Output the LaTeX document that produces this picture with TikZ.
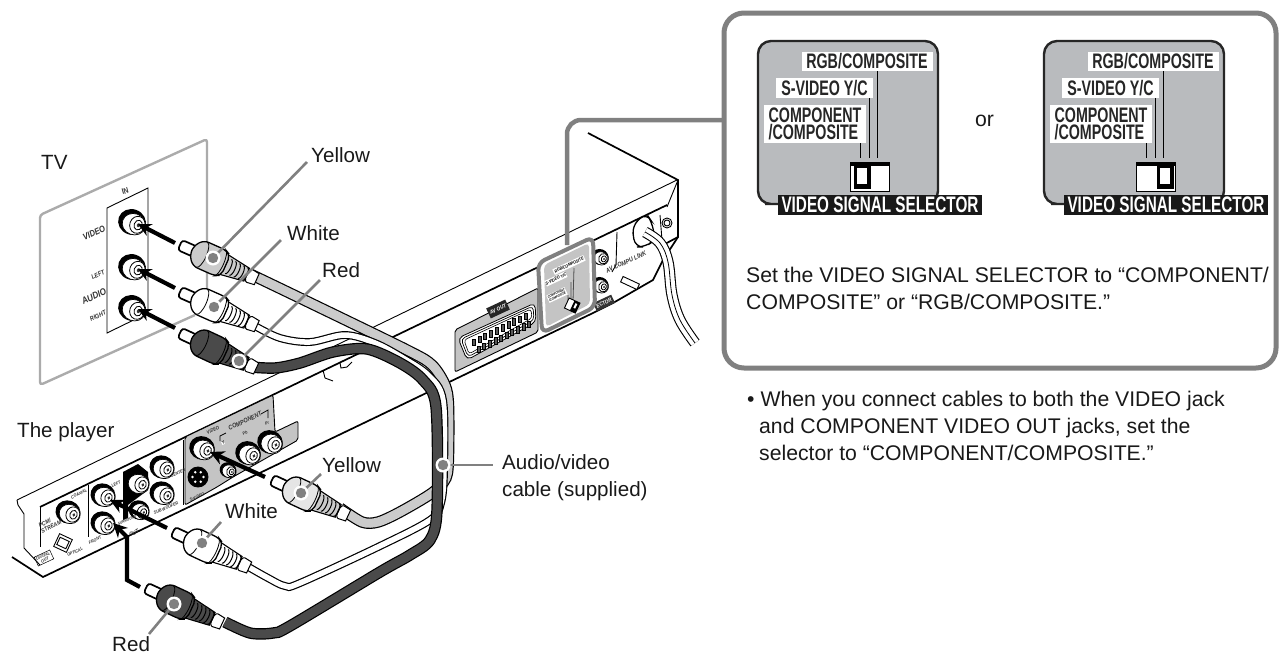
\documentclass[tikz,border=0pt]{standalone}
\usepackage{fontspec}
\setmainfont{Liberation Sans}
\newfontfamily\condb[FakeStretch=0.68]{Liberation Sans}
\newfontfamily\tinyf[FakeStretch=0.85]{Liberation Sans}
\usetikzlibrary{arrows.meta}
\definecolor{lead}{HTML}{808080}
\definecolor{tvgray}{HTML}{ABABAB}
\definecolor{pan}{HTML}{C4C4C4}
\definecolor{cabg}{HTML}{CBCBCB}
\definecolor{cabb}{HTML}{4A4A4A}
\definecolor{selg}{HTML}{B9BBBE}
\tikzset{
 x=1pt,y=-1pt,
 lab/.style={font=\fontsize{20.6}{20.6}\selectfont,anchor=base west,inner sep=0,text=black!90},
 body/.style={lab,font=\fontsize{21.2}{21.2}\selectfont},
 tiny/.style={font=\tinyf\bfseries\itshape\fontsize{#1}{#1}\selectfont,inner sep=0,rotate=25,text=black!80},
 tiny/.default=5,
 leader/.style={lead,line width=2.6},
 thin line/.style={line width=.9,black},
 thick line/.style={line width=1.7,black},
 pa/.style={line width=4.2,black},
 cable/.style={line width=1.2,black,double=#1,double distance=8.5},
 sellab/.style={fill=white,inner sep=0,font=\condb\bfseries\fontsize{21}{16.5}\selectfont,text=black!85},
}
\newcommand\rcajack[3]{%
 \begin{scope}[shift={(#1,#2)},scale=#3,rotate=-20]
  \fill[black] (0,0) ellipse (14 and 12.8);
  \draw[line width=.7,fill=white] (2.5,1.4) ellipse (11.8 and 10.6);
  \draw[line width=.8,fill=white] (6,.8) ellipse (7.6 and 8.6);
  \draw[line width=.8,fill=white] (6.8,.8) ellipse (4 and 5);
  \fill[black!80] (7.2,.8) ellipse (1.6 and 2);
 \end{scope}}
\newcommand\plugat[5]{%
 \begin{scope}[shift={(#1,#2)},rotate=-#3]
  \draw[thick line,fill=white,rounded corners=3] (15,-5.5)--(0,-5.5)--(0,5.5)--(15,5.5);
  \draw[line width=1,fill=white] (76,-7)--(84,-6)--(84,6)--(76,7) arc[x radius=3,y radius=7,start angle=90,end angle=270];
  \draw[line width=1.1,fill=#5] (46,-11)--(73,-7)--(73,7)--(46,11)--cycle;
  \foreach \q in {53,57.5,62,66.5,71}{\draw[line width=1] (\q,-11+\q*.06) arc[x radius=2.5,y radius=11-\q*.06,start angle=-90,end angle=90];}
  \draw[line width=1.3,fill=#4,rounded corners=5] (13,-5)--(20,-14)--(44,-14)--(50,-11)--(50,11)--(44,14)--(20,14)--(13,5)--cycle;
  \draw[line width=.8] (24,-13.6) arc[x radius=4.5,y radius=13.6,start angle=-90,end angle=90];
  \draw[line width=.8] (44,-13.6) arc[x radius=3.5,y radius=13.6,start angle=-90,end angle=90];
 \end{scope}}
\newcommand\leadline[2]{%
 \draw[leader] (#1) -- (#2);
 \fill[white] (#1) circle (7.5);
 \fill[lead] (#1) circle (5.2);}
\newcommand\selector[3]{% dx, name suffix, knob dx
 \begin{scope}[xshift=#1]
  \draw[line width=2.4,black!85,fill=selg,rounded corners=13] (778,204)--(758,204)--(758,41)--(938,41)--(938,204)--cycle;
  \node[fill=black!90,text=white,inner sep=0,minimum width=204,minimum height=20,font=\condb\bfseries\fontsize{22.5}{20}\selectfont] (vss#2) at (880,205) {VIDEO SIGNAL SELECTOR};
  \draw[line width=1,black] (877,71)--(877,158) (869,98)--(869,158) (860,143)--(860,158);
  \node[sellab,minimum width=131,minimum height=19] (rgb#2) at (867,61.5) {RGB/COMPOSITE};
  \node[sellab,minimum width=97,minimum height=20] (sv#2) at (824.5,88) {S-VIDEO Y/C};
  \node[sellab,minimum width=102,minimum height=38,align=left] (cc#2) at (815,124) {COMPONENT\\/COMPOSITE};
  \draw[line width=1,black,fill=white] (850,162) rectangle (889,191);
  \fill[black] (850,162) rectangle (889,166);
  \begin{scope}[xshift=#3]
   \fill[black] (854,165) rectangle (871,189);
   \fill[white] (857,168) rectangle (867,184);
  \end{scope}
 \end{scope}}
\begin{document}
\begin{tikzpicture}
\useasboundingbox (0,0) rectangle (1282,656);
% TV panel
\draw[tvgray,line width=2.4,rounded corners=3] (195,315)--(40,385)--(40,215)--(207,139)--(207,300);
\draw[thin line,fill=white] (107,208)--(148,188)--(148,313)--(107,333)--cycle;
\rcajack{132}{222}{1}
\rcajack{132}{267}{1}
\rcajack{132}{308}{1}
\node[tiny=8] (tin) at (125,191) {IN};
\node[tiny=9] (tvideo) at (94,233) {VIDEO};
\node[tiny=6.5] (tleft) at (98,275) {LEFT};
\node[tiny=9.5] (taudio) at (94,296) {AUDIO};
\node[tiny=6.5] (tright) at (98,316) {RIGHT};
% player body
\draw[thin line] (17,500)--(677,180);
\draw[thick line] (588,133)--(678,180)--(678,237)--(663,245);
\draw[thin line] (678,180)--(667,207);
\draw[thick line] (40,507)--(667,205);
\draw[thin line] (17,500)--(18,505)--(24,514)--(24,548)--(40,565);
\draw[thin line] (40,507)--(40,547);
\draw[thick line] (12,557)--(43,577)--(593,313)--(613,303)--(653,280)--(663,260)--(678,237);
\draw[thin line] (88,485)--(88,537);
\draw[thin line] (183,440)--(183,505);
\draw[thin line] (617,232) -- (616,265) -- (612,272);
% notch
\draw[thin line] (323,370)--(325,378)--(333,381);
\draw[thin line] (340,363)--(341,368)--(347,367)--(352,362);
% AV out panel
\draw[thin line,fill=pan,rounded corners=2] (455,330)--(538,288)--(538,332)--(455,372)--cycle;
\draw[line width=.8,fill=white,rounded corners=5] (458,338)--(535,303)--(536,322)--(467,360)--cycle;
\draw[line width=.7,rounded corners=4] (461,339)--(533,306)--(534,320)--(468,357)--cycle;
\draw[line width=.6,rounded corners=3] (464,340)--(531,309)--(532,318)--(469,354)--cycle;
\foreach \i in {0,...,9}{
 \draw[line width=.5,fill=black!65] (472+5.8*\i,339-2.9*\i) rectangle +(3,6.5);
 \draw[line width=.5,fill=black!65] (477+5.6*\i,346-2.8*\i) rectangle +(3,6.5);
}
\node[fill=black!85,text=white,tiny=5.5,text=white,minimum width=21,minimum height=11] (avout) at (498,309) {AV OUT};
% right side of player
\rcajack{600}{257}{.62}
\rcajack{600}{285}{.62}
\node[fill=black!80,text=white,tiny=5.5,text=white,minimum width=20,minimum height=9,anchor=center] (sel) at (604,303) {ECTOR};
\node[tiny=6.5] (avc) at (626,262) {AV COMPU LINK};
\draw[thin line,fill=white,rotate around={-25:(630,283)}] (621,280) rectangle (639,286);
\draw[thin line] (667,223) circle (5);
\draw[thin line] (667,223) circle (3);
\draw[thin line] (660,215)--(662,240);
\draw[line width=1.3,fill=white,rounded corners=8] (632,226)--(646,213)--(652,222)--(655,240)--(645,247)--(635,247)--cycle;
% power cord
\draw[line width=1.1,black,double=white,double distance=9] plot[smooth,tension=.6] coordinates {(645,232)(660,243)(668,262)(672,295)(680,320)(695,343)};
\draw[line width=.8,black] plot[smooth,tension=.6] coordinates {(645,232)(660,243)(668,262)(672,295)(680,320)(695,343)};
% mini selector and connector
\draw[lead,line width=4.5,rounded corners=14] (724,120)--(567,120)--(567,245);
\draw[lead,line width=4,fill=white,rounded corners=7] (538,263)--(593,237)--(595,307)--(542,333)--cycle;
\fill[pan,rounded corners=4] (544,265)--(589,243)--(590,304)--(546,327)--cycle;
\draw[black!70,line width=.8] (574,268)--(573,301) (571,282)--(571,301) (568,295)--(568,301);
\node[fill=white,tiny=4.4,text=black,minimum width=34,minimum height=6] (mrgb) at (569,265) {RGB/COMPOSITE};
\node[fill=white,tiny=4.4,text=black,minimum width=22,minimum height=6] (msv) at (556,279) {S-VIDEO Y/C};
\node[fill=white,tiny=3.4,text=black,align=left,minimum width=20,minimum height=8] (mcc) at (557,295) {COMPONENT\\/COMPOSITE};
\draw[line width=.9,fill=white,rotate around={-25:(572,306)}] (566,300) rectangle (578,311);
\fill[black,rotate around={-25:(572,306)}] (572,300) rectangle (578,311);
\fill[white,rotate around={-25:(572,306)}] (574,302) rectangle (576,307);
% player rear panels
\draw[thin line,fill=pan,rounded corners=2] (185,437)--(273,395)--(275,432)--(298,421)--(298,440)--(233,477)--(217,487)--(185,505)--cycle;
\fill[black] (123,472)--(138,464)--(148,472)--(148,490)--(128,505)--(128,518)--(123,520)--cycle;
\rcajack{68}{512}{.9}
\rcajack{103}{495}{.9}
\rcajack{103}{523}{.9}
\rcajack{137}{482}{.9}
\rcajack{139}{510}{.75}
\rcajack{162}{467}{.9}
\rcajack{162}{493}{.9}
\rcajack{202}{448}{.92}
\rcajack{248}{453}{.92}
\rcajack{270}{442}{.92}
\rcajack{228}{470}{.6}
\draw[thin line,fill=black] (198,477) circle (10);
\foreach \a in {0,60,...,300}{\fill[white] (198,477)+(\a:5.5) circle (1.3);}
\node[tiny=5] (pvid) at (213,430) {VIDEO};
\node[tiny=6.5] (pcomp) at (245,421) {COMPONENT};
\draw[line width=.7] (220,441)--(220,436)--(226,433) (261,414)--(268,410)--(268,418);
\node[fill=white,tiny=4.5,text=black] (py) at (223,443) {Y};
\node[tiny=4.5] (ppb) at (245,433) {Pb};
\node[tiny=4.5] (ppr) at (267,423) {Pr};
\node[tiny=4.5] (psv) at (197,497) {S-VIDEO};
\node[tiny=4.5] (pcen) at (178,473) {CENTER};
\node[tiny=4.5] (psub) at (166,508) {SUB WOOFER};
\node[tiny=4.5] (pleft) at (116,484) {LEFT};
\node[tiny=4.5] (pfront) at (95,540) {FRONT};
\node[tiny=4] (psur) at (127,520) {SURROUND};
\node[tiny=5.5] (pout) at (134,533) {OUT};
\node[tiny=4.5] (pcoax) at (79,494) {COAXIAL};
\node[tiny=6,align=left] (ppcm) at (50,524) {PCM/\\STREAM};
\draw[thin line,rotate around={-25:(63,543)}] (56,536) rectangle (70,550);
\draw[thin line,rotate around={-25:(63,543)}] (58,539) rectangle (68,547);
\node[tiny=4.5] (popt) at (75,552) {OPTICAL};
\node[tiny=4.5,align=center,draw=black,line width=.5,inner sep=1] (pdig) at (44,558) {DIGITAL\\OUT};
% cables
\draw[cable=cabg,double distance=9] plot[smooth,tension=.5] coordinates {(250,274)(300,298)(407,350)(432,365)(445,385)(448.5,405)(448.5,455)(446,478)(432,493)(400,512)(378,522)(362,522)(340,508)};
\draw[cable=white,double distance=5.5] plot[smooth,tension=.55] coordinates {(255,326)(280,338)(310,342)(345,335)(375,343)(403,358)(428,375)(443,400)(444,470)(441,503)(430,520)(380,546)(300,583)(285,586)(268,578)(245,565)};
\draw[cable=cabb,double distance=9] plot[smooth,tension=.5] coordinates {(250,367)(275,368)(300,363)(333,352)(367,349)(400,363)(423,380)(436,407)(437,510)(430,540)(410,555)(380,572)(290,626)(273,633)(250,633)(225,622)};
% plugs
\plugat{180}{245}{24}{cabg}{cabg}
\plugat{180}{292}{24}{white}{white}
\plugat{180}{333}{25}{cabb}{cabb}
\plugat{272}{480}{25}{white!90!black}{cabg}
\plugat{173}{532}{25}{white}{white}
\plugat{146}{588}{25}{cabb}{cabb}
% arrows
\draw[pa,-{Stealth[length=13,width=13]}] (175,243)--(138,224);
\draw[pa,-{Stealth[length=13,width=13]}] (175,288)--(138,269);
\draw[pa,-{Stealth[length=13,width=13]}] (175,328)--(138,309);
\draw[pa,-{Stealth[length=14,width=14]}] (265,477)--(210,452);
\draw[pa,-{Stealth[length=14,width=14]}] (167,528)--(110,500);
\draw[pa,-{Stealth[length=14,width=14]}] (140,587)--(127,580)--(127,537)--(113,523);
% labels
\node[lab] (ltv) at (41,169) {TV};
\node[lab] (lplayer) at (17,437) {The player};
\node[lab] (ly1) at (311,162) {Yellow};
\node[lab] (lw1) at (287,240) {White};
\node[lab] (lr1) at (322,277) {Red};
\node[lab] (ly2) at (322,472) {Yellow};
\node[lab] (lw2) at (225,518) {White};
\node[lab] (lr2) at (112,651) {Red};
\node[lab] (lcab1) at (502,469) {Audio/video};
\node[lab] (lcab2) at (502,496) {cable (supplied)};
\coordinate (dy1) at (213,258); \coordinate (ey1) at (307,162);
\coordinate (dw1) at (214,307); \coordinate (ew1) at (281,240);
\coordinate (dr1) at (239,361); \coordinate (er1) at (320,280);
\coordinate (dy2) at (301,493); \coordinate (ey2) at (321,474);
\coordinate (dw2) at (202,543); \coordinate (ew2) at (221,522);
\coordinate (dr2) at (174,604); \coordinate (er2) at (149,634);
\coordinate (dc) at (443,465); \coordinate (ec) at (493,465);
\leadline{dy1}{ey1}
\leadline{dw1}{ew1}
\leadline{dr1}{er1}
\leadline{dy2}{ey2}
\leadline{dw2}{ew2}
\leadline{dr2}{er2}
\leadline{dc}{ec}
% callout
\draw[lead,line width=5,fill=white,rounded corners=20] (724,13) rectangle (1276,368);
\selector{0}{a}{0}
\selector{286}{b}{17}
\node[body] (lor) at (975,126) {or};
\node[body] (t1) at (746,282) {Set the VIDEO SIGNAL SELECTOR to “COMPONENT/};
\node[body] (t2) at (746,309) {COMPOSITE” or “RGB/COMPOSITE.”};
\node[body] (b1) at (747,406) {• When you connect cables to both the VIDEO jack};
\node[body] (b2) at (759,433) {and COMPONENT VIDEO OUT jacks, set the};
\node[body] (b3) at (759,460) {selector to “COMPONENT/COMPOSITE.”};
\end{tikzpicture}
\end{document}
